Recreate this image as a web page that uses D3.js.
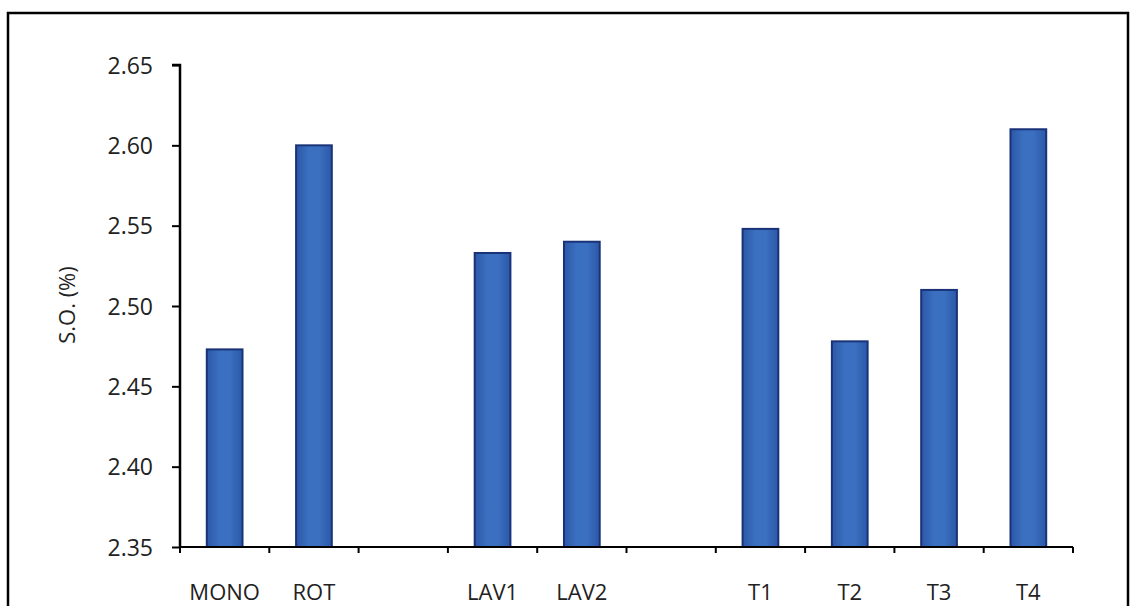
<!DOCTYPE html>
<html>
<head>
<meta charset="utf-8">
<script src="https://cdn.jsdelivr.net/npm/d3@7"></script>
<style>
  html, body { margin: 0; padding: 0; background: #fff; }
  svg { display: block; }
  text { font-family: "Open Sans", Lato, sans-serif; fill: #222; }
</style>
</head>
<body>
<svg id="chart" width="1130" height="606"></svg>
<script>
const categories = ["MONO", "ROT", "", "LAV1", "LAV2", "", "T1", "T2", "T3", "T4"];
const values     = [2.473, 2.600, null, 2.533, 2.540, null, 2.548, 2.478, 2.510, 2.610];
const yTicks     = [2.35, 2.40, 2.45, 2.50, 2.55, 2.60, 2.65];
const yTitle     = "S.O. (%)";

const svg = d3.select("#chart");
const mL = 180, mR = 1073, mT = 65, mB = 547;

// bar gradient
const grad = svg.append("defs").append("linearGradient").attr("id", "barGrad")
  .attr("x1", "0%").attr("x2", "100%").attr("y1", "0%").attr("y2", "0%");
grad.append("stop").attr("offset", "0%").attr("stop-color", "#2c58a8");
grad.append("stop").attr("offset", "35%").attr("stop-color", "#3b6fbf");
grad.append("stop").attr("offset", "65%").attr("stop-color", "#3b6fbf");
grad.append("stop").attr("offset", "100%").attr("stop-color", "#2c58a8");

// frame
svg.append("rect").attr("x", 8).attr("y", 13).attr("width", 1120).attr("height", 600)
  .attr("fill", "none").attr("stroke", "#000").attr("stroke-width", 2.5);

const x = d3.scaleBand().domain(d3.range(categories.length)).range([mL, mR]).paddingInner(0).paddingOuter(0);
const y = d3.scaleLinear().domain([2.35, 2.65]).range([mB, mT]);

// bars
const bw = x.bandwidth() * 0.4;
svg.append("g").selectAll("rect")
  .data(values.map((v, i) => ({ v, i })).filter(d => d.v !== null))
  .join("rect")
  .attr("x", d => x(d.i) + (x.bandwidth() - bw) / 2)
  .attr("y", d => y(d.v))
  .attr("width", bw)
  .attr("height", d => y(2.35) - y(d.v))
  .attr("fill", "url(#barGrad)")
  .attr("stroke", "#1a3278")
  .attr("stroke-width", 2);

// y axis
const yAxis = d3.axisLeft(y).tickValues(yTicks).tickFormat(d3.format(".2f")).tickSize(8).tickPadding(19);
const gy = svg.append("g").attr("transform", `translate(${mL},0)`).call(yAxis);
gy.select(".domain").attr("stroke", "#000").attr("stroke-width", 2.5).attr("d", `M-8,${mT}H0V${mB}`);
gy.selectAll(".tick line").attr("stroke", "#000").attr("stroke-width", 2);
gy.selectAll(".tick text").style("font-size", "23px").style("fill", "#222").attr("dy", "0.36em");

// x axis
const xAxis = d3.axisBottom(x).tickFormat(i => categories[i]).tickSize(0).tickPadding(37);
const gx = svg.append("g").attr("transform", `translate(0,${mB})`).call(xAxis);
gx.select(".domain").attr("stroke", "#000").attr("stroke-width", 2).attr("d", `M${mL},0H${mR}`);
gx.selectAll(".tick text").style("font-size", "22px").style("fill", "#222");
// boundary ticks
const bounds = d3.range(categories.length + 1).map(i => i < categories.length ? x(i) : mR);
svg.append("g").selectAll("line").data(bounds).join("line")
  .attr("x1", d => d).attr("x2", d => d)
  .attr("y1", mB).attr("y2", mB + 6)
  .attr("stroke", "#000").attr("stroke-width", 2);

// y title
svg.append("text")
  .attr("transform", `translate(75,305) rotate(-90)`)
  .attr("text-anchor", "middle")
  .style("font-size", "22px")
  .text(yTitle);
</script>
</body>
</html>
